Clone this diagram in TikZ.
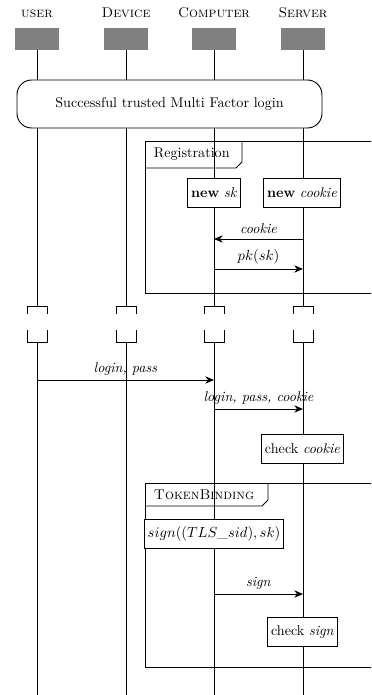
\documentclass[tikz,border=0pt]{standalone}
\usepackage{amsmath}
\usetikzlibrary{arrows.meta, positioning, calc}
\definecolor{HeadGrey}{HTML}{808080}

\begin{document}
\begin{tikzpicture}[x=0.75pt, y=-0.75pt, >={Stealth[length=6.5pt, width=5.5pt, inset=2pt]}, line width=0.7pt,
    font=\fontsize{10.6}{12.5}\selectfont,
    head/.style={fill=HeadGrey, minimum width=33pt, minimum height=16.5pt, inner sep=0pt},
    who/.style={inner sep=0pt, text depth=0pt},
    act/.style={draw, fill=white, minimum height=22pt, inner sep=2.5pt},
    msg/.style={->}]
    \useasboundingbox (0,0) rectangle (371,695);
    \clip (0,0) rectangle (371,695);

    % lifeline heads
    \node [head] (user) at (37,39) {};
    \node [head] (device) at (126,39) {};
    \node [head] (computer) at (214,39) {};
    \node [head] (server) at (303,39) {};
    \node [who, above=7.5pt of user] {\textsc{user}};
    \node [who, above=7.5pt of device] {\textsc{Device}};
    \node [who, above=7.5pt of computer] {\textsc{Computer}};
    \node [who, above=7.5pt of server] {\textsc{Server}};

    % break marks and lifelines
    \coordinate (cut-a) at (0,306);
    \coordinate (cut-b) at (0,342);
    \coordinate (bottom) at (0,695);
    \foreach \who in {user, device, computer, server} {
        \draw (\who.south) -- (\who |- cut-a);
        \draw ($(\who |- cut-a) + (-10,8)$) |- ($(\who |- cut-a) + (10,0)$) -- ++(0,8);
        \draw ($(\who |- cut-b) + (-10,-12)$) |- ($(\who |- cut-b) + (10,0)$) -- ++(0,-12);
        \draw (\who |- cut-b) -- (\who |- bottom);
    }

    \node [draw, fill=white, rounded corners=11pt, minimum width=228.75pt, minimum height=36pt] (mfa) at (169.5,104) {Successful trusted Multi Factor login};

    % Registration frame
    \draw (145,141) rectangle (420,293);
    \draw (145,168) -- (236,168) -- (242,162) -- (242,141);
    \node [anchor=west] (reg) at (149,154.5) {Registration};
    \node [act] (newsk) at (214,193) {\textbf{new} \textit{sk}};
    \node [act] (newcookie) at (302,193) {\textbf{new} \textit{cookie}};
    \coordinate (m1) at (0,239);
    \coordinate (m2) at (0,269);
    \draw [msg] (server |- m1) -- node [above] {\textit{cookie}} (computer |- m1);
    \draw [msg] (computer |- m2) -- node [above] {$pk(sk)$} (server |- m2);

    % login
    \coordinate (m3) at (0,380);
    \coordinate (m4) at (0,409);
    \draw [msg] (user |- m3) -- node [above] {\textit{login, pass}} (computer |- m3);
    \draw [msg] (computer |- m4) -- node [above] {\textit{login, pass, cookie}} (server |- m4);
    \node [act] (checkcookie) at (302.5,449) {check \textit{cookie}};

    % TokenBinding frame
    \draw (145,483) rectangle (420,667);
    \draw (145,506) -- (262,506) -- (268,500) -- (268,483);
    \node [anchor=west] (tb) at (149,494.5) {\textsc{TokenBinding}};
    \node [act] (signbox) at (214,534) {$sign((TLS\_sid), sk)$};
    \coordinate (m5) at (0,594);
    \draw [msg] (computer |- m5) -- node [above] {\textit{sign}} (server |- m5);
    \node [act] (checksign) at (302.5,632) {check \textit{sign}};
\end{tikzpicture}
\end{document}
